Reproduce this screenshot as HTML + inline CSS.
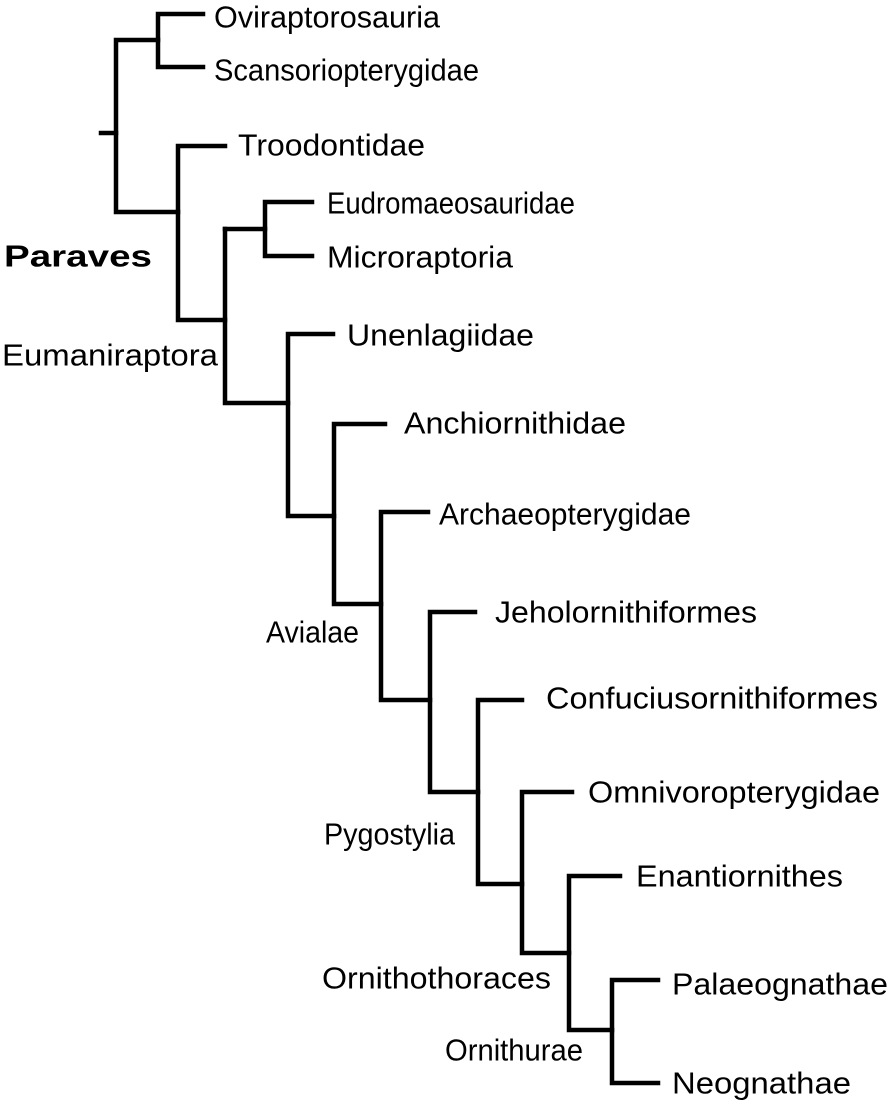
<!DOCTYPE html>
<html><head><meta charset="utf-8"><style>html,body{margin:0;padding:0;background:#fff}svg{display:block}</style></head>
<body>
<svg width="894" height="1106" viewBox="0 0 894 1106" xmlns="http://www.w3.org/2000/svg">
<g stroke="#000" stroke-width="4.5" fill="none" stroke-linecap="square">
<path d="M203 14H158V67H203"/>
<path d="M158 40H116V212H178"/>
<path d="M101 133H116"/>
<path d="M225 146H178V320H225"/>
<path d="M312 202H265V256H312"/>
<path d="M225 229H265"/>
<path d="M225 229V403H288"/>
<path d="M333 334H288V516H334"/>
<path d="M385 424H334V604H381"/>
<path d="M428 512H381V700H430"/>
<path d="M475 612H430V792H478"/>
<path d="M522 700H478V884H522"/>
<path d="M572 792H522V953H569"/>
<path d="M620 876H569V1030H612"/>
<path d="M658 980H612V1083H658"/>
</g>
<g font-family="Liberation Sans, Arial, sans-serif" font-size="31" fill="#000" dominant-baseline="central">
<text x="214" y="17" textLength="226" lengthAdjust="spacingAndGlyphs">Oviraptorosauria</text>
<text x="214" y="70" textLength="265" lengthAdjust="spacingAndGlyphs">Scansoriopterygidae</text>
<text x="238" y="145" textLength="187" lengthAdjust="spacingAndGlyphs">Troodontidae</text>
<text x="327" y="203" textLength="248" lengthAdjust="spacingAndGlyphs">Eudromaeosauridae</text>
<text x="327" y="257" textLength="186" lengthAdjust="spacingAndGlyphs">Microraptoria</text>
<text x="347" y="335" textLength="187" lengthAdjust="spacingAndGlyphs">Unenlagiidae</text>
<text x="404" y="423" textLength="222" lengthAdjust="spacingAndGlyphs">Anchiornithidae</text>
<text x="439" y="514" textLength="252" lengthAdjust="spacingAndGlyphs">Archaeopterygidae</text>
<text x="495" y="612" textLength="262" lengthAdjust="spacingAndGlyphs">Jeholornithiformes</text>
<text x="546" y="698" textLength="332" lengthAdjust="spacingAndGlyphs">Confuciusornithiformes</text>
<text x="588" y="792" textLength="292" lengthAdjust="spacingAndGlyphs">Omnivoropterygidae</text>
<text x="636" y="876" textLength="207" lengthAdjust="spacingAndGlyphs">Enantiornithes</text>
<text x="672" y="984" textLength="216" lengthAdjust="spacingAndGlyphs">Palaeognathae</text>
<text x="672" y="1083" textLength="179" lengthAdjust="spacingAndGlyphs">Neognathae</text>
<text x="4" y="256" font-weight="bold" textLength="148" lengthAdjust="spacingAndGlyphs">Paraves</text>
<text x="2" y="355" textLength="216" lengthAdjust="spacingAndGlyphs">Eumaniraptora</text>
<text x="266" y="632" textLength="93" lengthAdjust="spacingAndGlyphs">Avialae</text>
<text x="324" y="834" textLength="131" lengthAdjust="spacingAndGlyphs">Pygostylia</text>
<text x="322" y="978" textLength="229" lengthAdjust="spacingAndGlyphs">Ornithothoraces</text>
<text x="445" y="1050" textLength="138" lengthAdjust="spacingAndGlyphs">Ornithurae</text>
</g>
</svg>
</body></html>
